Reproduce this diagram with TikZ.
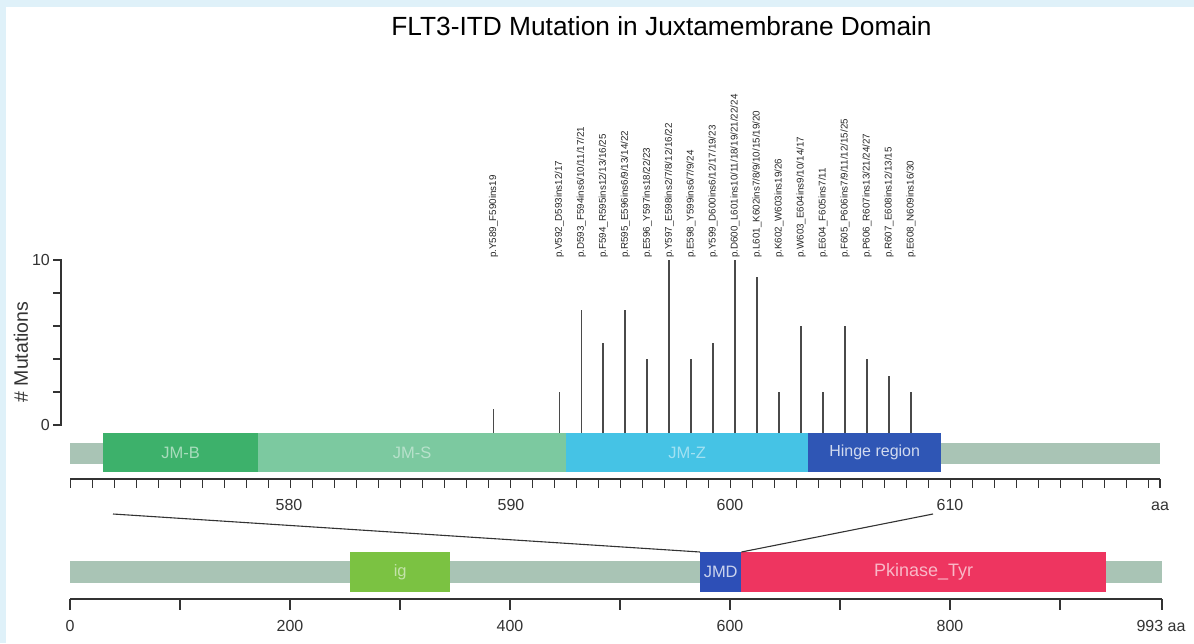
\documentclass[tikz,border=0pt]{standalone}
\usepackage{fontspec}
\setmainfont{Liberation Sans}
\definecolor{bgblue}{HTML}{DFF1F9}
\definecolor{barg}{HTML}{A9C4B5}
\definecolor{jmb}{HTML}{3DB16B}
\definecolor{jms}{HTML}{7CC9A0}
\definecolor{jmz}{HTML}{45C3E5}
\definecolor{hinge}{HTML}{2F56B5}
\definecolor{igc}{HTML}{7BC242}
\definecolor{jmdc}{HTML}{2D4FB7}
\definecolor{pk}{HTML}{EE3560}
\definecolor{ink}{HTML}{333333}
\definecolor{stemc}{HTML}{4A4A4A}
\newcommand\mutstem[4]{%
  \coordinate (b#1) at (#2,433);
  \coordinate (t#1) at (#2,{425-16.5*#3});
  \draw[stemline] (b#1) -- (t#1);
  \node[mutlab] (l#1) at (#2,258) {#4};
}
\begin{document}
\begin{tikzpicture}[x=1pt,y=-1pt,
  stemline/.style={draw=stemc,line width=1.8pt},
  mutlab/.style={rotate=90,anchor=west,inner sep=0pt,font=\fontsize{9.8}{11}\selectfont,text=black!85},
  dombox/.style={anchor=north west,inner sep=0pt,draw=none,minimum height=39pt},
  domlab/.style={font=\fontsize{16.5}{18}\selectfont},
  axisline/.style={draw=ink,line width=1.3pt},
  ticklab/.style={font=\fontsize{16}{18}\selectfont,text=ink,inner sep=0pt,anchor=base},
  zoomline/.style={draw=ink,line width=1.1pt}]
\useasboundingbox (0,0) rectangle (1194,643);
\fill[bgblue] (0,0) rectangle (1194,643);
\fill[white] (6,7) rectangle (1194,643);
% title
\node[font=\fontsize{26.3}{29}\selectfont,text=black,anchor=base] (title) at (661.5,35) {FLT3-ITD Mutation in Juxtamembrane Domain};
% y axis
\draw[axisline] (53,260) -- (61,260) -- (61,425) -- (53,425);
\foreach \yy in {293,326,359,392}{\draw[axisline] (53,\yy) -- (61,\yy);}
\node[ticklab,anchor=east] (y10) at (50,260) {10};
\node[ticklab,anchor=east] (y0) at (50,425) {0};
\node[font=\fontsize{19.5}{22}\selectfont,text=ink,rotate=90] (ylab) at (21,352) {\# Mutations};
% upper track
\node[dombox,fill=barg,minimum width=1090pt,minimum height=21pt] (bar1) at (70,443) {};
\node[dombox,fill=jmb,minimum width=155pt] (jmbbox) at (103,433) {};
\node[dombox,fill=jms,minimum width=308pt] (jmsbox) at (258,433) {};
\node[dombox,fill=jmz,minimum width=242pt] (jmzbox) at (566,433) {};
\node[dombox,fill=hinge,minimum width=133pt] (hingebox) at (808,433) {};
\node[domlab,text=jmb!45!white] (jmbt) at (jmbbox.center) {JM-B};
\node[domlab,text=jms!55!white] (jmst) at (jmsbox.center) {JM-S};
\node[domlab,text=jmz!50!white] (jmzt) at (jmzbox.center) {JM-Z};
\node[domlab,font=\fontsize{16}{18}\selectfont,text=hinge!22!white] (hinget) at (hingebox.center) {Hinge region};
% stems and labels
\mutstem{a}{493.5}{1}{p.Y589\_F590ins19}
\mutstem{b}{559.4}{2}{p.V592\_D593ins12/17}
\mutstem{c}{581.4}{7}{p.D593\_F594ins6/10/11/17/21}
\mutstem{d}{603.3}{5}{p.F594\_R595ins12/13/16/25}
\mutstem{e}{625.3}{7}{p.R595\_E596ins6/9/13/14/22}
\mutstem{f}{647.3}{4}{p.E596\_Y597ins18/22/23}
\mutstem{g}{669.3}{10}{p.Y597\_E598ins2/7/8/12/16/22}
\mutstem{h}{691.2}{4}{p.E598\_Y599ins6/7/9/24}
\mutstem{i}{713.2}{5}{p.Y599\_D600ins6/12/17/19/23}
\mutstem{j}{735.2}{10}{p.D600\_L601ins10/11/18/19/21/22/24}
\mutstem{k}{757.2}{9}{p.L601\_K602ins7/8/9/10/15/19/20}
\mutstem{l}{779.1}{2}{p.K602\_W603ins19/26}
\mutstem{m}{801.1}{6}{p.W603\_E604ins9/10/14/17}
\mutstem{n}{823.1}{2}{p.E604\_F605ins7/11}
\mutstem{o}{845.1}{6}{p.F605\_P606ins7/9/11/12/15/25}
\mutstem{p}{867.0}{4}{p.P606\_R607ins13/21/24/27}
\mutstem{q}{889.0}{3}{p.R607\_E608ins12/13/15}
\mutstem{r}{911.0}{2}{p.E608\_N609ins16/30}
% upper axis
\draw[axisline] (70,479) -- (1160,479);
\foreach \k in {0,...,49}{\draw[axisline] ({70.7+22*\k},479) -- ({70.7+22*\k},488);}
\draw[axisline] (1160,479) -- (1160,488);
\node[ticklab] (u580) at (289,510) {580};
\node[ticklab] (u590) at (511,510) {590};
\node[ticklab] (u600) at (730,510) {600};
\node[ticklab] (u610) at (950,510) {610};
\node[ticklab] (uaa) at (1160,510) {aa};
% lower track
\node[dombox,fill=barg,minimum width=1092pt,minimum height=22pt] (bar2) at (70,561) {};
\node[dombox,fill=igc,minimum width=100pt,minimum height=40pt] (igbox) at (350,552) {};
\node[dombox,fill=jmdc,minimum width=41pt,minimum height=40pt] (jmd) at (700,552) {};
\node[dombox,fill=pk,minimum width=365pt,minimum height=40pt] (pkbox) at (741,552) {};
\node[domlab,text=igc!45!white] (igt) at (igbox.center) {ig};
\node[domlab,text=jmdc!25!white] (jmdt) at (jmd.center) {JMD};
\node[domlab,font=\fontsize{18}{20}\selectfont,text=pk!35!white] (pkt) at (pkbox.center) {Pkinase\_Tyr};
% zoom lines
\coordinate (zl) at (113,514);
\coordinate (zr) at (933,514);
\draw[zoomline] (zl) -- (jmd.north west);
\draw[zoomline] (zr) -- (jmd.north east);
% lower axis
\draw[axisline] (70,599) -- (1162,599);
\foreach \k in {0,...,9}{\draw[axisline] ({70+110*\k},599) -- ({70+110*\k},610);}
\draw[axisline] (1162,599) -- (1162,610);
\node[ticklab] (l0) at (70,631) {0};
\node[ticklab] (l200) at (290,631) {200};
\node[ticklab] (l400) at (510,631) {400};
\node[ticklab] (l600) at (730,631) {600};
\node[ticklab] (l800) at (950,631) {800};
\node[ticklab] (l993) at (1161,631) {993 aa};
\end{tikzpicture}
\end{document}
